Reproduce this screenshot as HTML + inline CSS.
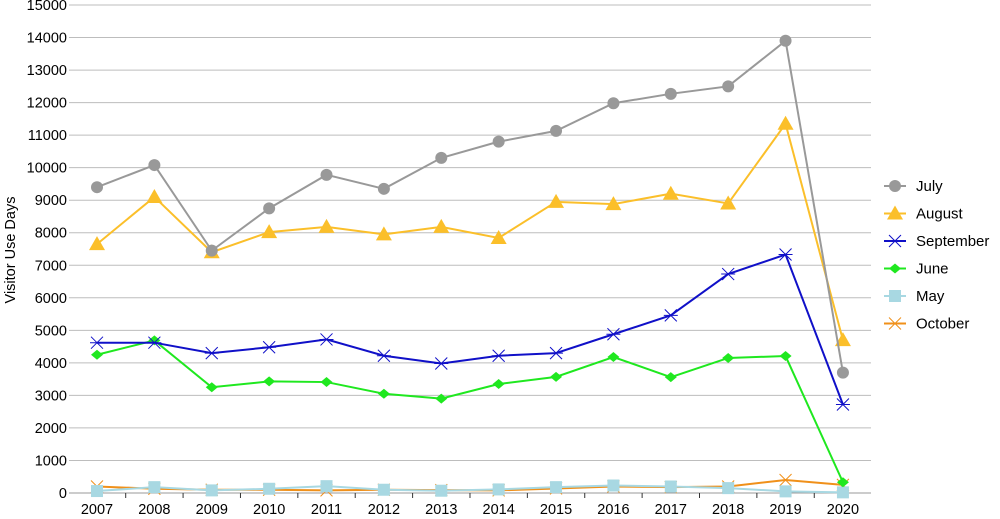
<!DOCTYPE html>
<html><head><meta charset="utf-8"><style>
body{margin:0;background:#fff;}
svg{display:block;font-family:"Liberation Sans",Arial,sans-serif;}
</style></head><body>
<svg id="c" width="1000" height="519" xmlns="http://www.w3.org/2000/svg"></svg>
<script>
const s=document.getElementById('c');let h='';
const Y=v=>493-v*0.032533, X=i=>97+i*57.38;
for(let v=0;v<=15000;v+=1000){const y=Y(v);
 if(v>0)h+=`<line x1="69" x2="871" y1="${y}" y2="${y}" stroke="#bdbdbd" stroke-width="1"/>`;
 h+=`<text x="67" y="${y+5}" font-size="14.5" text-anchor="end" fill="#000">${v}</text>`;}
h+=`<line x1="69" x2="871" y1="493" y2="493" stroke="#999"/>`;
for(let i=0;i<14;i++){h+=`<text x="${X(i)}" y="514" font-size="14.5" text-anchor="middle">${2007+i}</text>`;
 const tx=X(i)+28.7; if(i<13)h+=`<line x1="${tx}" x2="${tx}" y1="493" y2="498" stroke="#333"/>`;}
h+=`<text transform="translate(15,250) rotate(-90)" font-size="14.5" text-anchor="middle">Visitor Use Days</text>`;
const S=[
["July","#999999","circle",[9400,10080,7450,8750,9780,9350,10300,10800,11130,11980,12270,12500,13900,3700]],
["August","#fbbf2a","tri",[7650,9100,7400,8020,8180,7950,8180,7840,8950,8880,9200,8900,11350,4700]],
["September","#1010c8","star",[4620,4620,4300,4480,4720,4220,3980,4220,4300,4880,5460,6730,7330,2720]],
["June","#1fe81f","diamond",[4250,4690,3250,3430,3410,3050,2900,3350,3570,4180,3560,4150,4210,330]],
["May","#a8d8e2","square",[60,180,80,130,210,100,70,110,180,230,200,150,50,20]],
["October","#f0901a","x",[200,130,100,100,80,100,90,80,140,200,180,200,400,250]]];
function mk(t,x,y,c){
 if(t=="circle")return `<circle cx="${x}" cy="${y}" r="6" fill="${c}"/>`;
 if(t=="tri")return `<polygon points="${x},${y-8} ${x-8},${y+6} ${x+8},${y+6}" fill="${c}"/>`;
 if(t=="diamond")return `<polygon points="${x},${y-5} ${x+6},${y} ${x},${y+5} ${x-6},${y}" fill="${c}"/>`;
 if(t=="square")return `<rect x="${x-6}" y="${y-6}" width="12" height="12" fill="${c}"/>`;
 if(t=="star")return `<path d="M${x-6} ${y-6}L${x+6} ${y+6}M${x+6} ${y-6}L${x-6} ${y+6}M${x-7} ${y}H${x+7}" stroke="${c}" stroke-width="1"/>`;
 return `<path d="M${x-6} ${y-6}L${x+6} ${y+6}M${x+6} ${y-6}L${x-6} ${y+6}" stroke="${c}" stroke-width="1"/>`;}
[...S].reverse().forEach(([n,c,t,d])=>{
 h+=`<polyline fill="none" stroke="${c}" stroke-width="2" points="${d.map((v,i)=>X(i)+','+Y(v)).join(' ')}"/>`;
 d.forEach((v,i)=>h+=mk(t,X(i),Y(v),c));});
S.forEach(([n,c,t],k)=>{const y=186+k*27.5;
 h+=`<line x1="884" x2="906" y1="${y}" y2="${y}" stroke="${c}" stroke-width="2"/>`+mk(t,895,y,c);
 h+=`<text x="916" y="${y+5}" font-size="15">${n}</text>`;});
s.innerHTML=h;
</script>
</body></html>
